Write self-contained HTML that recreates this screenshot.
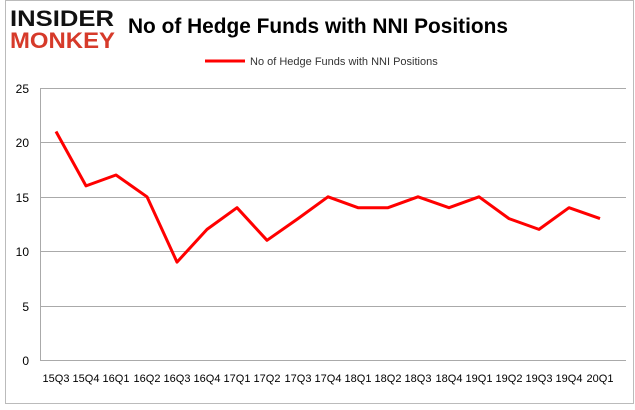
<!DOCTYPE html>
<html><head><style>
body{margin:0;background:#fff;}
</style></head><body>
<svg width="635" height="405" xmlns="http://www.w3.org/2000/svg" font-family="Liberation Sans, sans-serif">
<rect x="0" y="0" width="635" height="405" fill="#fff"/>
<rect x="5.5" y="0.5" width="628" height="403" fill="none" stroke="#bbb"/>
<text x="10" y="26" font-size="22" font-weight="bold" fill="#111" textLength="104" lengthAdjust="spacingAndGlyphs">INSIDER</text>
<text x="10" y="48" font-size="22" font-weight="bold" fill="#d63a2a" textLength="105" lengthAdjust="spacingAndGlyphs">MONKEY</text>
<text x="128" y="33" font-size="21" font-weight="bold" fill="#000" textLength="380" lengthAdjust="spacingAndGlyphs">No of Hedge Funds with NNI Positions</text>
<line x1="205" y1="61" x2="245" y2="61" stroke="#f00" stroke-width="3"/>
<text x="250" y="65" font-size="11" fill="#333">No of Hedge Funds with NNI Positions</text>
<g stroke="#aaa" stroke-width="1">
<line x1="40" y1="88.5" x2="626" y2="88.5"/>
<line x1="40" y1="142.5" x2="626" y2="142.5"/>
<line x1="40" y1="197.5" x2="626" y2="197.5"/>
<line x1="40" y1="251.5" x2="626" y2="251.5"/>
<line x1="40" y1="306.5" x2="626" y2="306.5"/>
<line x1="40" y1="360.5" x2="626" y2="360.5"/>
<line x1="40.5" y1="88" x2="40.5" y2="360"/>
</g>
<g font-size="12" fill="#000" text-anchor="end">
<text x="29" y="93">25</text><text x="29" y="147">20</text><text x="29" y="202">15</text>
<text x="29" y="256">10</text><text x="29" y="311">5</text><text x="29" y="365">0</text>
</g>
<g font-size="11" fill="#000" text-anchor="middle">
<text x="56" y="382">15Q3</text><text x="86" y="382">15Q4</text><text x="116" y="382">16Q1</text><text x="147" y="382">16Q2</text><text x="177" y="382">16Q3</text><text x="207" y="382">16Q4</text><text x="237" y="382">17Q1</text><text x="267" y="382">17Q2</text><text x="298" y="382">17Q3</text><text x="328" y="382">17Q4</text><text x="358" y="382">18Q1</text><text x="388" y="382">18Q2</text><text x="418" y="382">18Q3</text><text x="449" y="382">18Q4</text><text x="479" y="382">19Q1</text><text x="509" y="382">19Q2</text><text x="539" y="382">19Q3</text><text x="569" y="382">19Q4</text><text x="600" y="382">20Q1</text>
</g>
<polyline fill="none" stroke="#f00" stroke-width="3" stroke-linejoin="round" points="56,131.5 86,185.9 116,175 147,196.8 177,262.1 207,229.4 237,207.7 267,240.3 298,218.6 328,196.8 358,207.7 388,207.7 418,196.8 449,207.7 479,196.8 509,218.6 539,229.4 569,207.7 600,218.6"/>
</svg>
</body></html>
